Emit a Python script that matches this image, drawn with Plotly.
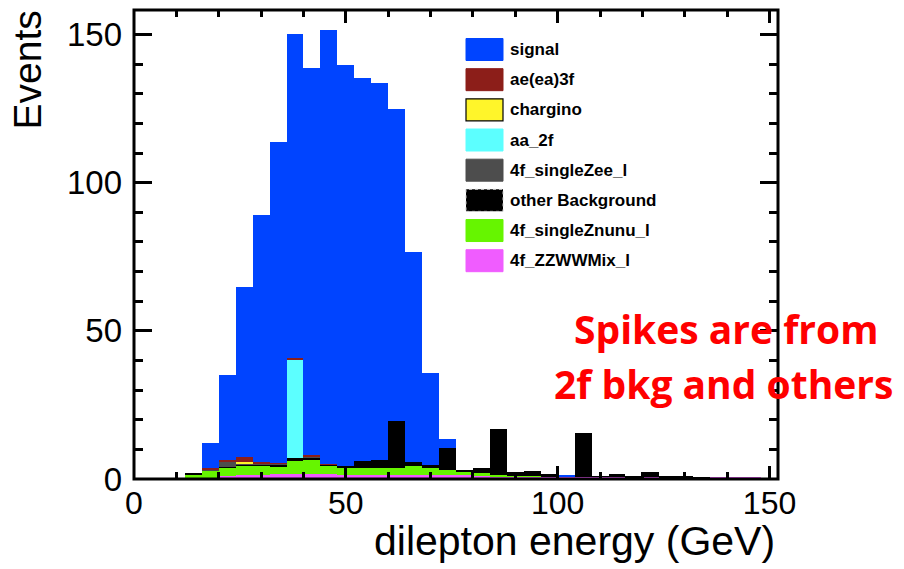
import numpy as np
import plotly.graph_objects as go

# 4 GeV bins from 0 to 152 GeV
bin_edges = np.arange(0, 153, 4)
bin_centers = bin_edges[:-1] + 2

# Stacked event counts per bin (bottom of stack first)
zzwwmix = [0.3, 0.3, 0.3, 0.3, 0.5, 1.0, 1.2, 1.3, 1.6, 1.6,
           1.6, 1.6, 1.5, 1.5, 1.5, 1.5, 1.5, 1.5, 1.4, 1.2,
           1.0, 0.9, 0.8, 0.8, 0.7, 0.9, 0.7, 0.7, 0.6, 0.6,
           0.6, 0.5, 0.5, 0.5, 0.4, 0.4, 0.4, 0.3]
singleznunu = [0, 0, 0, 1.2, 2.2, 2.9, 3.5, 3.2, 2.6, 4.8,
               4.8, 2.9, 2.5, 2.3, 2.1, 2.1, 2.8, 2.3, 1.6, 1.4,
               0.9, 0.45, 0.2, 0.1, 0.1, 0, 0, 0, 0, 0,
               0, 0, 0, 0, 0, 0, 0, 0]
other_bkg = [0, 0, 0, 0.2, 0.3, 0.3, 0.3, 0.4, 0.6, 0.6,
             1.0, 0.4, 0.4, 2.4, 2.8, 15.9, 1.3, 0.8, 7.5, 0.4,
             1.7, 15.5, 1.5, 1.9, 0.9, 0.1, 14.7, 0.3, 1.1, 0.3,
             1.9, 0.4, 0.3, 0.1, 0, 0, 0, 0]
singlezee = [0, 0, 0, 0, 0.3, 1.7, 0.3, 0.4, 0.3, 0,
             0.3, 0.1, 0, 0, 0, 0, 0, 0, 0, 0,
             0, 0, 0, 0, 0, 0, 0, 0, 0, 0,
             0, 0, 0, 0, 0, 0, 0, 0]
aa_2f = [0, 0, 0, 0, 0, 0, 0, 0, 0, 33.3,
         0, 0, 0, 0, 0, 0, 0, 0, 0, 0,
         0, 0, 0, 0, 0, 0, 0, 0, 0, 0,
         0, 0, 0, 0, 0, 0, 0, 0]
chargino = [0, 0, 0, 0, 0, 0, 0.5, 0, 0, 0,
            0, 0, 0, 0, 0, 0, 0, 0, 0, 0,
            0, 0, 0, 0, 0, 0, 0, 0, 0, 0,
            0, 0, 0, 0, 0, 0, 0, 0]
ae_ea_3f = [0, 0, 0, 0, 0.3, 0.5, 1.5, 0.5, 0.2, 0.4,
            0.4, 0.1, 0, 0, 0, 0, 0, 0, 0, 0,
            0, 0, 0, 0, 0, 0, 0, 0, 0, 0,
            0, 0, 0, 0, 0, 0, 0, 0]
signal = [0, 0, 0, 0, 8.4, 28.7, 57.4, 83.3, 108.3, 109.4,
          130.5, 146.4, 135.3, 129.0, 127.1, 105.3, 71.1, 31.3, 2.9, 0,
          0, 0, 0, 0, 0, 0.5, 0, 0, 0, 0,
          0, 0, 0, 0, 0, 0, 0, 0]

stack_names = ["4f_ZZWWMix_l", "4f_singleZnunu_l", "other Background",
               "4f_singleZee_l", "aa_2f", "chargino", "ae(ea)3f", "signal"]
stack_values = [zzwwmix, singleznunu, other_bkg, singlezee,
                aa_2f, chargino, ae_ea_3f, signal]
stack_colors = ["#f05cff", "#66f500", "#000000", "#4d4d4d",
                "#5cffff", "#fff52a", "#8c1e19", "#0044ff"]

W, H = 904, 569
ML, MR, MT, MB = 134, 126, 10, 90
PW, PH = W - ML - MR, H - MT - MB


def px_x(px):
    return (px - ML) / PW


def px_y(py):
    return (H - MB - py) / PH


fig = go.Figure()
for name, vals, col in zip(stack_names, stack_values, stack_colors):
    fig.add_trace(go.Bar(x=bin_centers, y=vals, width=4, name=name,
                         marker=dict(color=col, line=dict(width=0)),
                         showlegend=False))

axis_font = "Liberation Sans, Arial, sans-serif"
common = dict(showgrid=False, zeroline=False, showline=False,
              ticks="inside", mirror="allticks", tickcolor="black",
              tickwidth=2.5)

fig.update_layout(
    width=W, height=H,
    margin=dict(l=ML, r=MR, t=MT, b=MB),
    paper_bgcolor="white", plot_bgcolor="white",
    barmode="stack", bargap=0,
    xaxis=dict(range=[0, 152], tick0=0, dtick=50, ticklen=13,
               ticklabelstandoff=2,
               tickfont=dict(family=axis_font, size=32, color="black"),
               minor=dict(tick0=0, dtick=10, ticks="inside", ticklen=7,
                          tickwidth=2.5, tickcolor="black"),
               **common),
    yaxis=dict(range=[0, 158.3], tick0=0, dtick=50, ticklen=18,
               ticklabelstandoff=11,
               tickfont=dict(family=axis_font, size=33, color="black"),
               minor=dict(tick0=0, dtick=10, ticks="inside", ticklen=9,
                          tickwidth=2.5, tickcolor="black"),
               **common),
)

# frame around the plotting area
fig.add_shape(type="rect", xref="paper", yref="paper", x0=0, x1=1, y0=0, y1=1,
              line=dict(color="black", width=3), layer="above")

# axis titles
fig.add_annotation(text="dilepton energy (GeV)", xref="paper", yref="paper",
                   x=px_x(777), y=px_y(541), xanchor="right", yanchor="middle",
                   showarrow=False,
                   font=dict(family=axis_font, size=41, color="black"))
fig.add_annotation(text="Events", xref="paper", yref="paper",
                   x=px_x(27), y=px_y(9), xanchor="center", yanchor="top",
                   textangle=-90, showarrow=False,
                   font=dict(family=axis_font, size=39, color="black"))

# legend: boxes and labels, top of stack first
row0, row_step = 49.5, 30.17
for i, (name, col) in enumerate(zip(stack_names[::-1], stack_colors[::-1])):
    yc = row0 + i * row_step
    if name == "chargino":
        edge = dict(color="black", width=1.2)
    elif name == "other Background":
        edge = dict(color="#cccccc", width=1, dash="dot")
    else:
        edge = dict(color=col, width=1)
    fig.add_shape(type="rect", xref="paper", yref="paper",
                  x0=px_x(466), x1=px_x(503), y0=px_y(yc + 11), y1=px_y(yc - 11),
                  fillcolor=col, line=edge, layer="above")
    fig.add_annotation(text=name, xref="paper", yref="paper",
                       x=px_x(508), y=px_y(yc), xanchor="left", yanchor="middle",
                       showarrow=False,
                       font=dict(family=axis_font, size=17, color="black",
                                 weight="bold"))

# note about the spikes
note_font = dict(family="Open Sans, sans-serif", size=39, color="#ff0000",
                 weight="bold")
fig.add_annotation(text="Spikes are from", xref="paper", yref="paper",
                   x=px_x(726), y=px_y(328), xanchor="center", yanchor="middle",
                   showarrow=False, font=note_font)
fig.add_annotation(text="2f bkg and others", xref="paper", yref="paper",
                   x=px_x(723.5), y=px_y(383), xanchor="center", yanchor="middle",
                   showarrow=False, font=note_font)

fig.write_html("out.html")
